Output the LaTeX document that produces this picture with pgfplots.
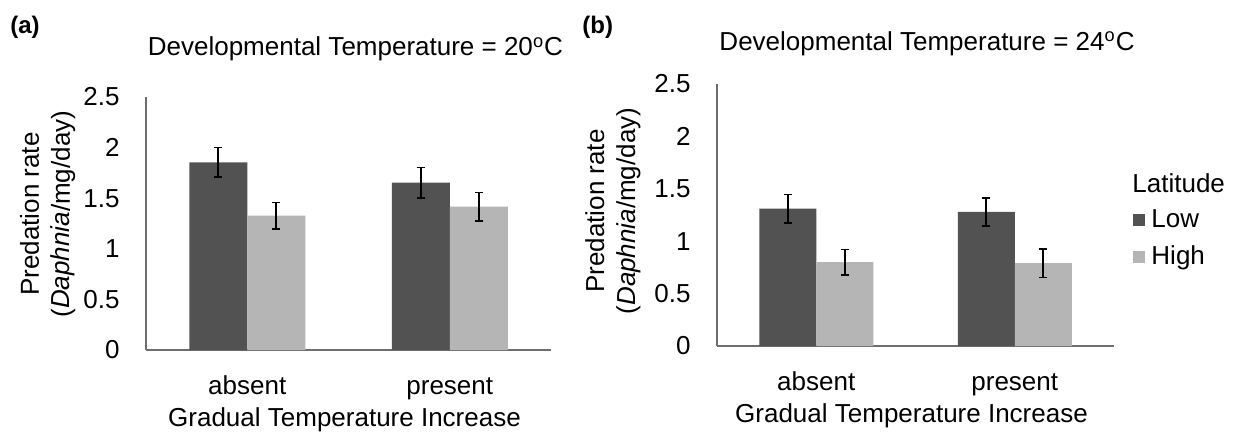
\documentclass[border=0pt]{standalone}
\usepackage{pgfplots}
\pgfplotsset{compat=1.18}
\usepackage{fontspec}
\setmainfont{Liberation Sans}

\definecolor{lowlat}{RGB}{82,82,82}
\definecolor{highlat}{RGB}{181,181,181}
\definecolor{axisgray}{RGB}{110,110,110}

\pgfplotsset{
  predplot/.style={
    scale only axis,
    ybar=0pt,
    ymin=0, ymax=2.5,
    xmin=-0.5, xmax=1.5,
    xtick={0,1},
    xticklabels={absent,present},
    ytick={0,0.5,1,1.5,2,2.5},
    major tick length=0pt,
    axis x line=bottom,
    axis y line=left,
    axis line style={-, axisgray, line width=0.8pt},
    font=\fontsize{13}{15.5}\selectfont,
    /pgf/number format/assume math mode=true,
    yticklabel style={anchor=east, inner sep=0pt, xshift=-13pt},
    xticklabel style={anchor=base, yshift=-22pt},
    xlabel={Gradual Temperature Increase},
    xlabel style={at={(axis description cs:0.5,0)}, anchor=base, yshift=-38pt, xshift=-2pt},
    ylabel={Predation rate\\(\textit{Daphnia}/mg/day)},
    title style={anchor=base},
    error bars/error bar style={black, line width=0.8pt},
    error bars/error mark options={black, line width=0.8pt, mark size=2pt, rotate=90},
  },
}

\begin{document}
\begin{tikzpicture}
\useasboundingbox (0,0) rectangle (620pt,218pt);

% panel (a)
\begin{axis}[predplot,
  at={(73pt,43pt)}, anchor=south west,
  width=202.5pt, height=126.5pt,
  bar width=29pt,
  title={Developmental Temperature = 20\textsuperscript{o}C},
  title style={at={(axis description cs:0.517,1.115)}},
  ylabel style={at={(axis description cs:-0.243,0.537)}, anchor=center, align=center},
]
\addplot[fill=lowlat, draw=none,
  error bars/.cd, y dir=both, y explicit]
  coordinates {(0,1.855) +- (0,0.145) (1,1.653) +- (0,0.15)};
\addplot[fill=highlat, draw=none,
  error bars/.cd, y dir=both, y explicit]
  coordinates {(0,1.327) +- (0,0.13) (1,1.416) +- (0,0.14)};
\end{axis}

% panel (b)
\begin{axis}[predplot,
  at={(358.5pt,45pt)}, anchor=south west,
  width=198.5pt, height=131pt,
  bar width=28.5pt,
  title={Developmental Temperature = 24\textsuperscript{o}C},
  title style={at={(axis description cs:0.529,1.084)}},
  ylabel style={at={(axis description cs:-0.262,0.515)}, anchor=center, align=center},
  legend image code/.code={\fill[#1] (0pt,-3pt) rectangle (6pt,3pt);},
  legend style={at={(axis description cs:1.048,0.41)}, anchor=west,
    draw=none, fill=none, inner sep=0pt, row sep=5pt,
    nodes={inner sep=1.5pt}, font=\fontsize{13}{15.5}\selectfont},
  legend cell align=left,
]
\addplot[fill=lowlat, draw=none,
  error bars/.cd, y dir=both, y explicit]
  coordinates {(0,1.31) +- (0,0.135) (1,1.28) +- (0,0.135)};
\addlegendentry{\hspace{1.5pt}Low}
\addplot[fill=highlat, draw=none,
  error bars/.cd, y dir=both, y explicit]
  coordinates {(0,0.80) +- (0,0.12) (1,0.79) +- (0,0.135)};
\addlegendentry{\hspace{1.5pt}High}
\end{axis}

\node[anchor=base west, inner sep=0pt, font=\fontsize{13}{15.5}\selectfont] at (566pt,122pt) {Latitude};
\node[anchor=base west, inner sep=0pt, font=\fontsize{12}{14}\selectfont\bfseries] at (5pt,201.5pt) {(a)};
\node[anchor=base west, inner sep=0pt, font=\fontsize{12}{14}\selectfont\bfseries] at (291pt,201.5pt) {(b)};
\end{tikzpicture}
\end{document}
